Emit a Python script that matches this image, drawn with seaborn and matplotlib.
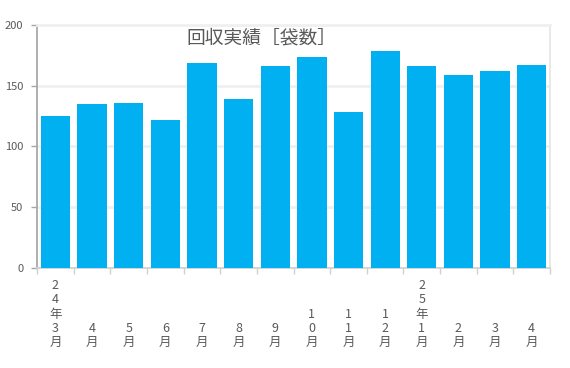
"""Monthly collection results (bags) bar chart."""
import matplotlib
matplotlib.use('Agg')
import matplotlib.pyplot as plt
import seaborn as sns
import pandas as pd

months = ['24年3月', '4月', '5月', '6月', '7月', '8月', '9月', '10月',
          '11月', '12月', '25年1月', '2月', '3月', '4月']
bags = [125, 135, 136, 122, 169, 139, 166, 174, 128, 179, 166, 159, 162, 167]
y_ticks = [0, 50, 100, 150, 200]
title = '回収実績［袋数］'

BAR = '#00B0F0'
TXT = '#595959'

sns.set_theme(style='white')
plt.rcParams['font.family'] = ['Noto Sans CJK JP', 'DejaVu Sans']

df = pd.DataFrame({'month': range(len(months)), 'bags': bags})

fig = plt.figure(figsize=(5.7, 3.68), dpi=100)
ax = fig.add_axes([0.065, 0.272, 0.9, 0.66])

sns.barplot(x='month', y='bags', data=df, ax=ax, color=BAR, width=0.8,
            saturation=1, native_scale=True, linewidth=0, zorder=3)

ax.set_xlim(-0.5, len(months) - 0.5)
ax.set_ylim(0, 200)
ax.set_yticks(y_ticks)
ax.set_yticklabels([str(v) for v in y_ticks], color=TXT, fontsize=8)
ax.yaxis.grid(True, color='#f0f0f0', linewidth=2, zorder=0)
ax.set_xlabel('')
ax.set_ylabel('')

# category boundary ticks like a spreadsheet chart
ax.set_xticks([i - 0.5 for i in range(len(months) + 1)])
ax.set_xticklabels([])
ax.tick_params(axis='x', bottom=True, length=4, color='#d0d0d0', width=1)
ax.tick_params(axis='y', left=True, length=4, color='#a6a6a6', width=1, pad=6)

ax.spines['left'].set_color('#a6a6a6')
ax.spines['bottom'].set_color('#d0d0d0')
ax.spines['top'].set_color('#f0f0f0')
ax.spines['top'].set_linewidth(2)
ax.spines['right'].set_color('#e6e6e6')

# vertical stacked month labels, bottom aligned
for i, m in enumerate(months):
    ax.text(i, -0.335, '\n'.join(m), transform=ax.get_xaxis_transform(),
            ha='center', va='bottom', fontsize=9, color=TXT, linespacing=1.13)

ax.text(0.438, 0.947, title, transform=ax.transAxes, ha='center', va='center',
        fontsize=13.5, color=TXT)

fig.savefig('out.png', dpi=100)
